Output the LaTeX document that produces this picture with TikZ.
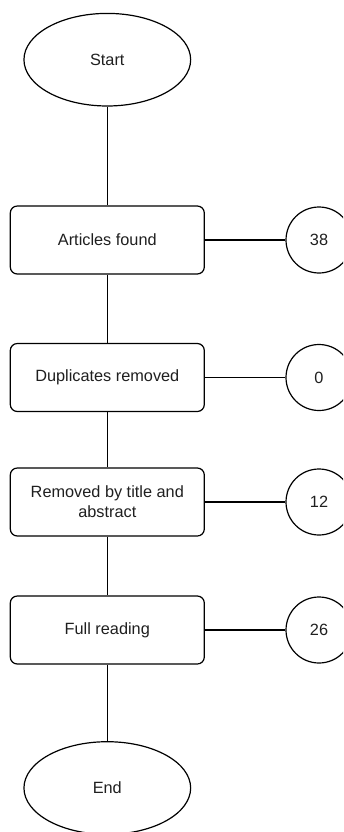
\documentclass[tikz,border=0pt]{standalone}
\usepackage{fontspec}
\setmainfont{Liberation Sans}
\usetikzlibrary{shapes.geometric}
\begin{document}
\begin{tikzpicture}[x=1pt,y=-1pt,line width=1.2pt,
  every node/.style={font=\fontsize{16.3}{20}\selectfont,text=black!88},
  term/.style={draw,ellipse,minimum width=166.7pt,minimum height=92.6pt,inner sep=0pt},
  stepbox/.style={draw,rounded corners=7pt,minimum width=194pt,minimum height=68pt,align=center,inner sep=0pt},
  count/.style={draw,circle,minimum size=66pt,inner sep=0pt},
  link/.style={draw,line width=1.2pt}]
\clip (0,0) rectangle (343,832);
\useasboundingbox (0,0) rectangle (343,832);
\node[term] (start) at (107.3,59.7) {Start};
\node[stepbox] (a) at (107.3,240) {Articles found};
\node[stepbox] (b) at (107.3,377.5) {Duplicates removed};
\node[stepbox] (c) at (107.3,502) {Removed by title and\\abstract};
\node[stepbox] (d) at (107.3,630) {Full reading};
\node[term] (end) at (107.3,788) {End};
\node[count] (na) at (319,240) {38};
\node[count] (nb) at (319,377.5) {0};
\node[count] (nc) at (319,502) {12};
\node[count] (nd) at (319,630) {26};
\path[link] (start) -- (a);
\path[link] (a) -- (b);
\path[link] (b) -- (c);
\path[link] (c) -- (d);
\path[link] (d) -- (end);
\path[link] (a) -- (na);
\path[link] (b) -- (nb);
\path[link] (c) -- (nc);
\path[link] (d) -- (nd);
\end{tikzpicture}
\end{document}
